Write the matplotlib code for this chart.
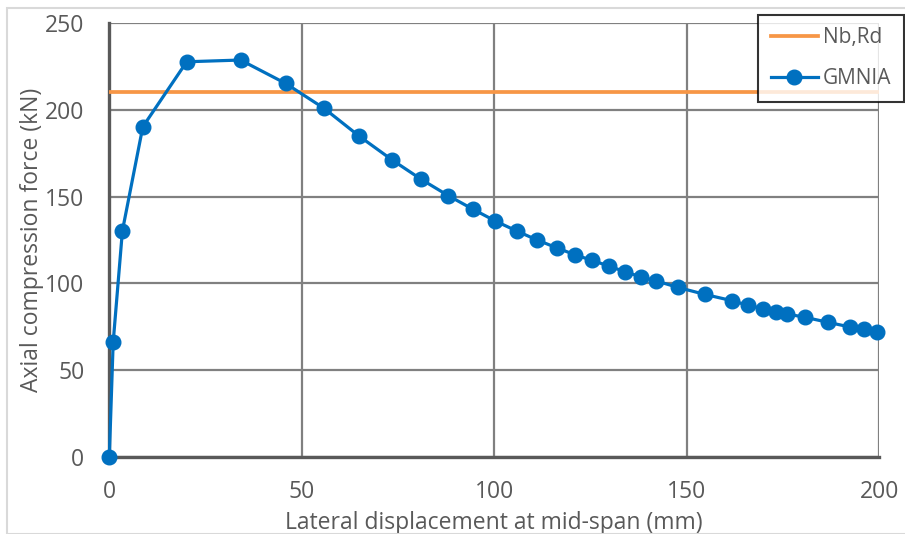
import numpy as np
import matplotlib.pyplot as plt
from matplotlib.patches import Rectangle

# GMNIA curve
disp = [0, 1.0, 3.4, 8.7, 20.1, 34.1, 45.8, 55.8, 64.9, 73.5, 81.0, 88.1, 94.4,
        100.3, 105.8, 111.1, 116.2, 120.9, 125.3, 129.7, 133.9, 138.0, 141.9,
        147.6, 154.7, 161.7, 165.9, 169.9, 173.2, 176.1, 180.7, 186.7, 192.4,
        195.9, 199.3]
force = [0, 66.0, 130.3, 190.3, 227.8, 228.8, 215.3, 200.9, 184.9, 171.1,
         160.0, 150.5, 142.8, 135.9, 130.2, 125.0, 120.5, 116.5, 113.3, 110.0,
         106.7, 103.8, 101.5, 97.7, 93.6, 90.0, 87.3, 85.4, 83.6, 82.3, 80.4,
         77.5, 74.8, 73.5, 72.1]

# design resistance
nb_x = [0, 200]
nb_rd = 210.5

txt = '#595959'
plt.rcParams['font.family'] = ['Open Sans', 'DejaVu Sans']

fig = plt.figure(figsize=(9.05, 5.34), dpi=100)
ax = fig.add_axes([0.1208, 0.1448, 0.8508, 0.8116])

# light chart border like excel
fig.patches.append(Rectangle((7/905, 0), 1, 1 - 8/534, transform=fig.transFigure,
                             fill=False, edgecolor='#d9d9d9', linewidth=1.5))

ax.plot(nb_x, [nb_rd, nb_rd], color='#F79646', lw=2.7, label='Nb,Rd', zorder=3)
ax.plot(disp, force, color='#0070C0', lw=2.3, marker='o', ms=10.5,
        label='GMNIA', zorder=4, clip_on=False)

ax.set_xlim(0, 200)
ax.set_ylim(0, 250)
ax.set_xticks(np.arange(0, 201, 50))
ax.set_yticks(np.arange(0, 251, 50))
ax.grid(True, color='#808080', lw=1.6)
ax.set_axisbelow(True)
for s in ['top', 'right']:
    ax.spines[s].set_visible(False)
for s in ['left', 'bottom']:
    ax.spines[s].set_color('#595959')
    ax.spines[s].set_linewidth(2.4)
ax.tick_params(length=0, labelsize=16.5, colors=txt)
ax.tick_params(axis='y', pad=18)
ax.tick_params(axis='x', pad=17)

ax.set_xlabel('Lateral displacement at mid-span (mm)', fontsize=16.5, color=txt, labelpad=5)
ax.set_ylabel('Axial compression force (kN)', fontsize=16.5, color=txt, labelpad=1)

leg = fig.legend(loc='upper left', bbox_to_anchor=(758/905, 1 - 15/534),
                 borderaxespad=0, fontsize=15, frameon=True, fancybox=False,
                 handlelength=2.3, labelspacing=0.95, borderpad=0.6, handletextpad=0.2)
leg.get_frame().set_edgecolor('black')
leg.get_frame().set_linewidth(1.5)
for t in leg.get_texts():
    t.set_color(txt)

fig.savefig('out.png', dpi=100)
